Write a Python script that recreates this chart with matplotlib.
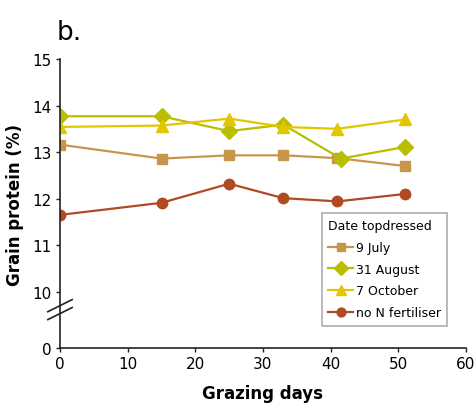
import matplotlib
matplotlib.use("Agg")
import matplotlib.pyplot as plt

plt.rcParams['font.family'] = ['DejaVu Sans']

days = [0, 15, 25, 33, 41, 51]
days_aug = [0, 15, 25, 33, 41.5, 51]
july9 = [13.16, 12.86, 12.93, 12.93, 12.87, 12.70]
aug31 = [13.77, 13.77, 13.45, 13.59, 12.86, 13.11]
oct7 = [13.54, 13.57, 13.72, 13.54, 13.50, 13.70]
no_n = [11.65, 11.91, 12.32, 12.01, 11.94, 12.10]
labels = ["9 July", "31 August", "7 October", "no N fertiliser"]

ytick_vals = [15, 14, 13, 12, 11, 10]
xticks = [0, 10, 20, 30, 40, 50, 60]
ZERO = 8.79  # axis position used for the broken-axis "0"

fig = plt.figure(figsize=(4.75, 4.14), dpi=100)
ax = fig.add_axes([60/475, 1-349/414, 406/475, 289/414])

ax.plot(days, july9, color="#C8964A", marker="s", ms=7.5, lw=1.6, label=labels[0])
ax.plot(days_aug, aug31, color="#B9BE00", marker="D", ms=8, lw=1.6, label=labels[1])
ax.plot(days, oct7, color="#E2C600", marker="^", ms=8, lw=1.6, label=labels[2])
ax.plot(days, no_n, color="#B04A22", marker="o", ms=7.5, lw=1.6, label=labels[3])

ax.set_xlim(0, 60)
ax.set_ylim(ZERO, 15)
ax.set_xticks(xticks)
ax.set_yticks(ytick_vals + [ZERO])
ax.set_yticklabels([str(v) for v in ytick_vals] + ["0"])
ax.spines['top'].set_visible(False)
ax.spines['right'].set_visible(False)
for s in ['left', 'bottom']:
    ax.spines[s].set_linewidth(1.2)
    ax.spines[s].set_color("#222222")
ax.tick_params(axis='both', labelsize=11, length=3, width=1, color="#222222", pad=3)

# axis break marks
for dy in (0, 0.17):
    ax.plot([-1.8, 1.8], [9.40 + dy, 9.66 + dy], color="#222222", lw=1.2,
            clip_on=False)

ax.set_ylabel("Grain protein (%)", fontsize=12, fontweight="bold", labelpad=6)
ax.set_xlabel("Grazing days", fontsize=12, fontweight="bold", labelpad=9)

leg = ax.legend(title="Date topdressed", loc="upper left",
                bbox_to_anchor=(322/475, 1-214/414), bbox_transform=fig.transFigure,
                fontsize=9, title_fontsize=9, frameon=True, fancybox=False,
                edgecolor="#999999", markerscale=0.85, handlelength=2.0,
                handletextpad=0.2, labelspacing=0.7, borderpad=0.5,
                borderaxespad=0)
leg._legend_box.align = "left"
leg.get_frame().set_linewidth(1.2)

fig.text(57/475, 1-40/414, "b.", fontsize=19)

fig.savefig("out.png", dpi=100)
